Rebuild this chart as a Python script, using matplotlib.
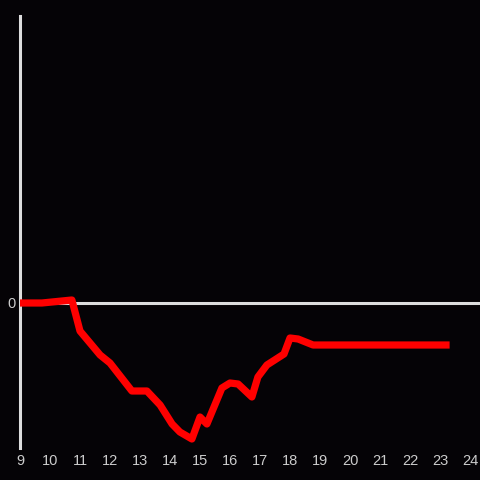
import matplotlib
matplotlib.use("Agg")
import matplotlib.pyplot as plt

# data
hours = [9.0, 9.73, 10.73, 11.0, 11.67, 12.0, 12.73, 13.23, 13.67, 14.07,
         14.33, 14.73, 15.0, 15.23, 15.73, 16.0, 16.27, 16.73, 16.93, 17.23,
         17.8, 18.0, 18.27, 18.77, 23.2]
values = [0, 0, 3, -28, -52, -60, -88, -88, -102, -121,
          -129, -136, -114, -121, -85, -80, -81, -94, -74, -62,
          -51, -35, -36, -42, -42]
xticks = list(range(9, 25))

bg = "#050306"
axis_col = "#dddddd"
label_col = "#cccccc"

fig = plt.figure(figsize=(4.8, 4.8), dpi=100, facecolor=bg)
ax = fig.add_axes([20 / 480, 32 / 480, 460 / 480, 432 / 480], facecolor=bg)

ax.axhline(0, color=axis_col, lw=2.2, zorder=1)
ax.plot(hours, values, color="#ff0000", lw=5.2, zorder=3)

ax.set_xlim(9, 9 + 460 / 30)
ax.set_ylim(-145, 287)

for s in ["top", "right", "bottom"]:
    ax.spines[s].set_visible(False)
ax.spines["left"].set_color(axis_col)
ax.spines["left"].set_linewidth(2.2)

ax.set_xticks(xticks)
ax.set_xticklabels([str(t) for t in xticks])
ax.set_yticks([0])
ax.set_yticklabels(["0"])
ax.tick_params(length=0, colors=label_col, labelsize=10.5, pad=4)
for lbl in ax.get_xticklabels() + ax.get_yticklabels():
    lbl.set_family(["Liberation Sans", "DejaVu Sans"])
ax.tick_params(axis="y", pad=3)

fig.savefig("out.png", dpi=100, facecolor=bg)
